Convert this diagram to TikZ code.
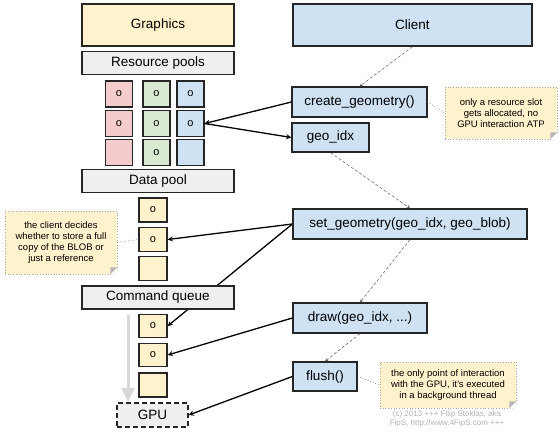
\documentclass[tikz,border=0pt]{standalone}
\usepackage{fontspec}
\setmainfont{Liberation Sans}
\usetikzlibrary{backgrounds,arrows.meta}

\definecolor{headyellow}{HTML}{FFF2CC}
\definecolor{callblue}{HTML}{CFE2F3}
\definecolor{poolred}{HTML}{F4CCCC}
\definecolor{poolgreen}{HTML}{D9EAD3}
\definecolor{bargray}{HTML}{EFEFEF}
\definecolor{notefill}{HTML}{FFF2CC}

\begin{document}
\begin{tikzpicture}[x=1pt,y=-1pt,
    box/.style={draw=black!85,line width=1.3pt,inner sep=0pt,font=\fontsize{13.5}{15}\selectfont},
    header/.style={box,fill=headyellow,minimum width=152pt,minimum height=42pt},
    poolbar/.style={box,fill=bargray,minimum width=152pt,minimum height=23pt},
    slot/.style={box,minimum width=27pt,minimum height=26pt,font=\fontsize{11}{12}\selectfont},
    queueslot/.style={slot,fill=headyellow,minimum width=28pt,minimum height=23pt},
    call/.style={box,fill=callblue,minimum height=30pt},
    note/.style={draw=gray!70,dotted,line width=0.7pt,fill=notefill,align=center,inner sep=0pt,
      font=\fontsize{9.5}{11.2}\selectfont},
    link/.style={line width=1.3pt,->,>=stealth},
    flow/.style={black!65,densely dashed,line width=0.5pt,->,>=stealth},
    tie/.style={gray,dotted,line width=0.7pt}]

  \useasboundingbox (0,0) rectangle (560,432);

  \node[header] (graphics) at (158,25) {Graphics};
  \node[poolbar] (respools) at (158,63) {Resource pools};

  \node[slot,fill=poolred] (pool11) at (119,94) {o};
  \node[slot,fill=poolgreen] (pool12) at (156.5,94) {o};
  \node[slot,fill=callblue] (pool13) at (190.5,94) {o};
  \node[slot,fill=poolred] (pool21) at (119,123.5) {o};
  \node[slot,fill=poolgreen] (pool22) at (156.5,123.5) {o};
  \node[slot,fill=callblue] (pool23) at (190.5,123.5) {o};
  \node[slot,fill=poolred] (pool31) at (119,152.5) {};
  \node[slot,fill=poolgreen] (pool32) at (156.5,152.5) {o};
  \node[slot,fill=callblue] (pool33) at (190.5,152.5) {};

  \node[poolbar] (datapool) at (158,181) {Data pool};
  \node[queueslot,minimum height=24pt] (data1) at (153,210) {o};
  \node[queueslot,minimum height=24pt] (data2) at (153,239.5) {o};
  \node[queueslot,minimum height=24pt] (data3) at (153,268.5) {};

  \node[poolbar] (cmdqueue) at (158,297.5) {Command queue};
  \node[queueslot] (cmd1) at (153,326) {o};
  \node[queueslot] (cmd2) at (153,355) {o};
  \node[queueslot,minimum height=24pt] (cmd3) at (153,385) {};

  \node[box,fill=bargray,dash pattern=on 5pt off 3pt,minimum width=71pt,minimum height=24pt] (gpu) at (152.5,415) {GPU};

  \coordinate (flowtop) at (128,315);
  \coordinate (flowend) at (128,402);
  \draw[gray!30,line width=3pt,-{Triangle[length=14pt,width=13pt]}] (flowtop) -- (flowend);

  \node[header,fill=callblue,minimum width=239pt] (client) at (412.5,25) {Client};
  \node[call,minimum width=135pt] (creategeo) at (359.5,102) {create\_geometry()};
  \node[call,minimum width=77pt,minimum height=29pt] (geoidx) at (330.5,137.5) {geo\_idx};
  \node[call,minimum width=234pt] (setgeo) at (410,224) {set\_geometry(geo\_idx, geo\_blob)};
  \node[call,minimum width=134pt] (drawcall) at (360,318) {draw(geo\_idx, ...)};
  \node[call,minimum width=64pt,minimum height=29pt] (flush) at (325,376.5) {flush()};

  \node[note,minimum width=112pt,minimum height=52pt] (noteslot) at (501,113)
    {only a resource slot\\gets allocated, no\\GPU interaction ATP};
  \node[note,minimum width=112pt,minimum height=63pt] (noteblob) at (61,242.5)
    {the client decides\\whether to store a full\\copy of the BLOB or\\just a reference};
  \node[note,minimum width=136pt,minimum height=46pt] (noteflush) at (448,385)
    {the only point of interaction\\with the GPU, it's executed\\in a background thread};

  \foreach \n in {noteslot,noteblob,noteflush} {
    \fill[white] ([xshift=-7pt]\n.south east) -- ([xshift=0.6pt,yshift=-0.6pt]\n.south east)
      -- ([yshift=7pt]\n.south east) -- cycle;
    \fill[gray!55] ([xshift=-7pt]\n.south east) -- ([yshift=7pt]\n.south east)
      -- ([xshift=-7pt,yshift=7pt]\n.south east) -- cycle;
  }

  \node[text=gray!60,align=center,font=\fontsize{8}{9}\selectfont] (credit) at (447,419)
    {(c) 2013 +++ Filip Stoklas, aka\\FipS, http://www.4FipS.com +++};

  \draw[tie] (creategeo.east) -- (noteslot.west);
  \draw[tie] (noteblob.east) -- (data2.west);
  \draw[tie] (flush.east) -- (noteflush.west);

  \draw[flow] (client.south) -- (creategeo.north);
  \draw[flow] (geoidx.south) -- (setgeo.north);
  \draw[flow] (setgeo.south) -- (drawcall.north);
  \draw[flow] (drawcall.south) -- (flush.north);

  \draw[link] (creategeo.west) -- (pool23.east);
  \draw[link] (pool23.east) -- (geoidx.west);
  \draw[link] (setgeo.west) -- (data2.east);
  \begin{scope}[on background layer]
    \draw[link] (setgeo.west) -- (cmd1.east);
  \end{scope}
  \draw[link] (drawcall.west) -- (cmd2.east);
  \draw[link] (flush.west) -- (gpu.east);
\end{tikzpicture}
\end{document}
